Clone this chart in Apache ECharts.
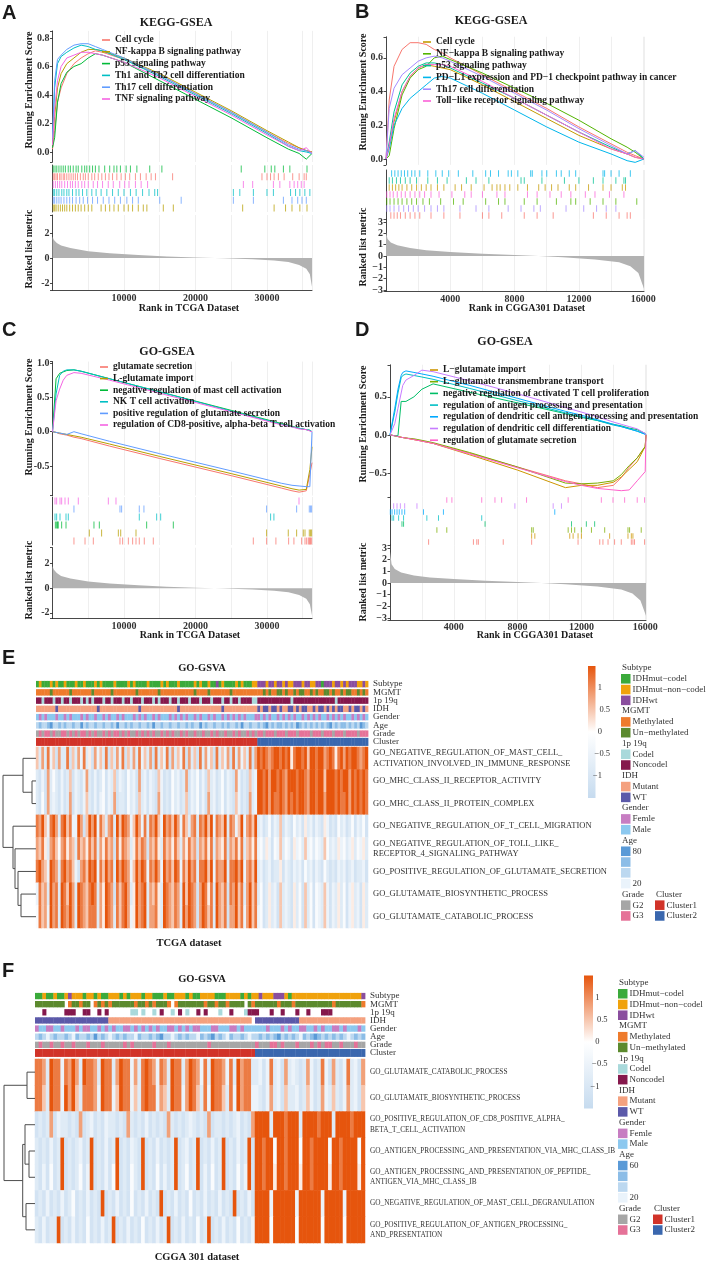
<!DOCTYPE html>
<html>
<head>
<meta charset="utf-8">
<title>GSEA / GSVA</title>
<script src="https://cdn.jsdelivr.net/npm/echarts@6/dist/echarts.min.js"></script>
<style>
  html, body { margin: 0; padding: 0; background: #fff; }
  #chart { width: 706px; height: 1265px; }
</style>
</head>
<body>
<div id="chart"></div>
<script>
// ---------------- A: KEGG-GSEA, TCGA ----------------
const setsA = ['Cell cycle', 'NF-kappa B signaling pathway', 'p53 signaling pathway',
  'Th1 and Th2 cell differentiation', 'Th17 cell differentiation', 'TNF signaling pathway'];
const colorsA = ['#F8766D', '#B79F00', '#00BA38', '#00BFC4', '#619CFF', '#F564E3'];
const rankA = [0, 300, 700, 1200, 2000, 3000, 4000, 5000, 6000, 7000, 10000, 15000, 20000, 25000, 30000, 33000, 34500, 35500, 36300];
const esA = [
  [0.02, 0.15, 0.35, 0.45, 0.55, 0.62, 0.66, 0.69, 0.71, 0.70, 0.65, 0.54, 0.41, 0.28, 0.14, 0.06, 0.03, 0.01, 0.00],
  [0.05, 0.25, 0.45, 0.55, 0.62, 0.66, 0.70, 0.72, 0.72, 0.71, 0.66, 0.55, 0.42, 0.29, 0.15, 0.07, 0.03, 0.01, 0.00],
  [0.03, 0.10, 0.35, 0.48, 0.56, 0.60, 0.62, 0.66, 0.69, 0.68, 0.63, 0.50, 0.37, 0.24, 0.10, 0.02, -0.01, -0.05, -0.01],
  [0.08, 0.45, 0.62, 0.67, 0.70, 0.73, 0.75, 0.74, 0.72, 0.71, 0.65, 0.53, 0.40, 0.27, 0.13, 0.04, 0.01, 0.00, -0.01],
  [0.10, 0.50, 0.65, 0.68, 0.72, 0.75, 0.76, 0.76, 0.74, 0.72, 0.66, 0.54, 0.41, 0.28, 0.14, 0.05, 0.02, 0.01, -0.01],
  [0.05, 0.30, 0.50, 0.60, 0.66, 0.68, 0.70, 0.70, 0.69, 0.68, 0.63, 0.52, 0.39, 0.26, 0.12, 0.04, 0.01, 0.03, -0.01]
];
const hitOrderA = [2, 0, 5, 3, 4, 1];
const hitsA = [
  [100, 300, 500, 700, 1000, 1200, 1500, 1700, 2000, 2300, 2600, 2900, 3200, 3500, 3900, 4300, 4600, 5000, 5500, 5900, 6400, 6900, 7400, 7900, 8400, 9000, 9600, 10200, 10800, 11600, 12300, 13100, 13800, 14400, 16800, 29300, 30000, 30500, 31000, 31600, 32400, 33600, 34500, 35200, 35500],
  [100, 300, 500, 800, 1100, 1400, 1700, 2000, 2400, 2800, 3200, 3600, 4000, 4500, 5000, 5500, 6800, 7400, 8000, 8600, 9200, 10000, 10600, 11200, 12000, 12700, 13200, 15500, 16900, 26600, 31000, 32600, 33500, 34600, 35600],
  [100, 350, 600, 900, 1200, 1500, 1800, 2200, 2500, 2900, 3300, 3600, 4100, 4500, 4800, 5200, 5600, 6000, 6500, 7300, 8000, 8600, 9000, 9500, 10300, 10900, 11800, 13600, 15300, 26400, 29700, 30600, 31100, 32300, 33200, 35600],
  [100, 300, 600, 900, 1300, 1600, 2000, 2300, 2800, 3300, 3700, 4200, 4800, 5500, 6100, 6800, 7600, 8400, 9200, 10000, 10900, 11700, 12600, 13500, 14300, 14700, 25300, 26200, 28100, 30000, 30900, 33300, 34000, 34600, 35300, 36000],
  [100, 300, 600, 900, 1200, 1600, 2000, 2400, 2800, 3300, 3800, 4300, 4900, 5600, 6300, 7100, 7900, 8700, 9500, 10400, 11200, 12000, 15000, 18000, 25300, 28100, 32300, 33500, 34300, 34900, 35500],
  [100, 400, 700, 1000, 1300, 1700, 2100, 2500, 2800, 3200, 3600, 4100, 4500, 5000, 5700, 6300, 7000, 7800, 8500, 9400, 10100, 10700, 11600, 12400, 13300, 26700, 28000, 30900, 31800, 33200, 33800, 34300, 34800, 35200]
];
const metricRankA = [0, 200, 600, 1200, 2500, 5000, 8000, 12000, 16000, 20000, 24000, 28000, 31000, 33000, 34500, 35500, 36000, 36300];
const metricA = [1.7, 1.45, 1.2, 1.0, 0.8, 0.55, 0.38, 0.24, 0.13, 0.05, -0.02, -0.1, -0.2, -0.32, -0.55, -0.85, -1.3, -2.3];

// ---------------- B: KEGG-GSEA, CGGA301 ----------------
const setsB = ['', 'Cell cycle', 'NF\u2212kappa B signaling pathway', 'p53 signaling pathway',
  'PD\u2212L1 expression and PD\u22121 checkpoint pathway in cancer', 'Th17 cell differentiation', 'Toll\u2212like receptor signaling pathway'];
const colorsB = ['#F8766D', '#C49A00', '#53B400', '#00C094', '#00B6EB', '#A58AFF', '#FB61D7'];
const rankB = [0, 200, 500, 1000, 1500, 2000, 2500, 3000, 3500, 4000, 6000, 8000, 10000, 12000, 14000, 15000, 15500, 16050];
const esB = [
  [0, 0.35, 0.55, 0.65, 0.69, 0.69, 0.68, 0.65, 0.63, 0.60, 0.50, 0.40, 0.30, 0.19, 0.09, 0.04, 0.02, 0.00],
  [0, 0.08, 0.22, 0.40, 0.49, 0.54, 0.56, 0.55, 0.54, 0.53, 0.44, 0.34, 0.24, 0.14, 0.06, 0.03, 0.01, 0.00],
  [0, 0.02, 0.18, 0.38, 0.48, 0.53, 0.55, 0.60, 0.61, 0.59, 0.51, 0.42, 0.33, 0.23, 0.12, 0.07, 0.04, 0.00],
  [0, 0.10, 0.28, 0.44, 0.51, 0.55, 0.57, 0.57, 0.56, 0.54, 0.45, 0.36, 0.26, 0.16, 0.07, 0.03, 0.05, 0.00],
  [0, 0.06, 0.20, 0.30, 0.36, 0.40, 0.44, 0.48, 0.49, 0.48, 0.39, 0.29, 0.19, 0.10, 0.03, -0.01, -0.02, 0.00],
  [0, 0.30, 0.42, 0.50, 0.54, 0.58, 0.60, 0.61, 0.60, 0.58, 0.49, 0.39, 0.29, 0.18, 0.08, 0.03, 0.05, 0.01],
  [0, 0.08, 0.24, 0.40, 0.49, 0.54, 0.56, 0.56, 0.56, 0.55, 0.46, 0.36, 0.26, 0.16, 0.06, 0.03, 0.01, 0.00]
];
const hitOrderB = [4, 3, 1, 6, 2, 5, 0];
const hitsB = [
  [300, 500, 700, 900, 1200, 1500, 1800, 2100, 2800, 3600, 4600, 6000, 6400, 7200, 8600, 9400, 10400, 12900, 13700, 14500, 15000, 15200],
  [200, 400, 600, 800, 1000, 1300, 1600, 1900, 2200, 2500, 2800, 3200, 3600, 4300, 4700, 5300, 6100, 6600, 6900, 7100, 7400, 7700, 8200, 8800, 9500, 9900, 10300, 10700, 11400, 11800, 12600, 13500, 14000, 14700, 14900],
  [50, 250, 500, 750, 1000, 1300, 1600, 1900, 2300, 2700, 3400, 4200, 4800, 6200, 7000, 7400, 8600, 9400, 10600, 11500, 11800, 12700, 13500, 14300, 15600],
  [200, 400, 650, 900, 1200, 1500, 1900, 2600, 3200, 3800, 5000, 5600, 6400, 8400, 8600, 9700, 11100, 12000, 12900, 13500, 14300, 14800, 14900],
  [350, 550, 750, 950, 1150, 1350, 1600, 1800, 2100, 2600, 3100, 3500, 3900, 4500, 5400, 6200, 6500, 7000, 7600, 7800, 8200, 9000, 9100, 9700, 10000, 10600, 10900, 11400, 11800, 13500, 13600, 14000, 14500, 15200],
  [50, 250, 500, 800, 1100, 1400, 1700, 2000, 2400, 2800, 3200, 3600, 4600, 5600, 6400, 7600, 8400, 9200, 9600, 11200, 12300, 13100, 13700, 14300],
  [50, 250, 450, 700, 950, 1200, 1500, 1800, 2100, 2400, 2800, 3300, 4100, 4900, 5300, 6000, 6900, 7400, 8800, 9400, 10200, 10900, 11500, 12400, 13000, 13900, 14800]
];
const metricRankB = [0, 100, 300, 700, 1500, 2500, 4000, 6000, 8000, 9500, 11000, 13000, 14500, 15200, 15700, 16050];
const metricB = [2.1, 1.5, 1.2, 0.95, 0.7, 0.5, 0.35, 0.2, 0.08, 0.0, -0.1, -0.3, -0.55, -0.9, -1.5, -2.9];

// ---------------- C: GO-GSEA, TCGA ----------------
const setsC = ['glutamate secretion', 'L-glutamate import', 'negative regulation of mast cell activation',
  'NK T cell activation', 'positive regulation of glutamate secretion', 'regulation of CD8-positive, alpha-beta T cell activation'];
const rankC = [0, 500, 1000, 1500, 2000, 3000, 4000, 8000, 15000, 25000, 32000, 33500, 34500, 35500, 36000, 36300];
const esC = [
  [0, -0.01, -0.03, -0.04, -0.05, -0.08, -0.10, -0.21, -0.39, -0.64, -0.82, -0.86, -0.88, -0.86, -0.62, -0.45],
  [0, -0.01, -0.02, -0.03, -0.04, -0.06, -0.08, -0.18, -0.36, -0.61, -0.79, -0.83, -0.85, -0.84, -0.55, -0.22],
  [0, 0.77, 0.85, 0.87, 0.89, 0.90, 0.88, 0.77, 0.58, 0.31, 0.12, 0.08, 0.05, 0.03, 0.02, 0.00],
  [0, 0.55, 0.82, 0.88, 0.90, 0.90, 0.88, 0.77, 0.58, 0.30, 0.11, 0.07, 0.05, 0.03, 0.02, 0.00],
  [0, -0.01, -0.02, -0.03, -0.04, 0.00, -0.03, -0.14, -0.32, -0.57, -0.75, -0.78, -0.79, -0.80, -0.80, 0.00],
  [0, 0.45, 0.62, 0.75, 0.82, 0.86, 0.85, 0.75, 0.56, 0.29, 0.10, 0.07, 0.04, 0.03, 0.01, 0.00]
];
const hitOrderC = [5, 4, 3, 2, 1, 0];
const hitsC = [
  [3000, 4550, 5710, 9440, 9810, 10610, 11210, 11680, 12140, 12840, 14100, 28090, 29950, 31250, 33030, 33770, 34850, 35320, 35550, 35780, 35920, 36010, 36100, 36250],
  [5150, 6870, 9210, 9540, 11680, 29950, 32980, 34150, 35080, 35320, 35920, 36100, 36250],
  [400, 580, 700, 810, 1280, 1890, 5800, 6550, 13170, 16900],
  [350, 580, 1050, 1890, 2210, 12140, 14570, 15130, 30510, 30970],
  [3000, 9440, 9670, 12140, 12790, 29950, 34150, 35920, 36100, 36250],
  [350, 580, 1050, 1280, 1750, 2210, 3610, 7810, 8880, 34480]
];
const metricC = [1.8, 1.5, 1.25, 1.0, 0.8, 0.55, 0.38, 0.24, 0.13, 0.05, -0.02, -0.1, -0.2, -0.32, -0.55, -0.85, -1.3, -2.2];

// ---------------- D: GO-GSEA, CGGA301 ----------------
const setsD = ['', 'L\u2212glutamate import', 'L\u2212glutamate transmembrane transport',
  'negative regulation of activated T cell proliferation', 'regulation of antigen processing and presentation',
  'regulation of dendritic cell antigen processing and presentation', 'regulation of dendritic cell differentiation',
  'regulation of glutamate secretion'];
const colorsD = ['#F8766D', '#CD9600', '#7CAE00', '#00BE67', '#00BFC4', '#00A9FF', '#C77CFF', '#FF61CC'];
const rankD = [0, 300, 500, 700, 800, 1000, 1500, 2000, 2700, 5000, 8000, 11000, 12000, 13000, 14000, 14500, 15000, 15500, 16000, 16050];
const esD = [
  [0, -0.01, -0.02, -0.03, -0.03, -0.04, -0.06, -0.08, -0.11, -0.24, -0.42, -0.60, -0.64, -0.69, -0.66, -0.56, -0.42, -0.30, -0.15, 0],
  [0, -0.01, -0.02, -0.03, -0.03, -0.04, -0.06, -0.08, -0.11, -0.26, -0.46, -0.69, -0.66, -0.66, -0.62, -0.55, -0.45, -0.35, -0.15, 0],
  [0, -0.01, -0.02, -0.03, -0.03, -0.04, -0.05, -0.07, -0.10, -0.23, -0.42, -0.63, -0.64, -0.63, -0.60, -0.52, -0.40, -0.30, -0.15, 0],
  [0, -0.01, -0.01, 0.44, 0.44, 0.44, 0.50, 0.60, 0.67, 0.56, 0.42, 0.28, 0.23, 0.19, 0.14, 0.12, 0.09, 0.07, 0.02, 0],
  [0, 0.30, 0.55, 0.75, 0.78, 0.80, 0.78, 0.76, 0.73, 0.61, 0.45, 0.29, 0.24, 0.19, 0.13, 0.11, 0.08, 0.05, 0.01, 0],
  [0, 0.35, 0.60, 0.78, 0.82, 0.84, 0.82, 0.80, 0.77, 0.65, 0.48, 0.31, 0.26, 0.20, 0.14, 0.11, 0.08, 0.05, 0.01, 0],
  [0, 0.15, 0.35, 0.55, 0.65, 0.72, 0.78, 0.85, 0.83, 0.71, 0.54, 0.36, 0.30, 0.24, 0.17, 0.14, 0.11, 0.08, 0.02, 0],
  [0, -0.01, -0.02, -0.03, -0.03, -0.04, -0.06, -0.08, -0.11, -0.25, -0.43, -0.61, -0.66, -0.70, -0.72, -0.73, -0.72, -0.60, -0.48, 0]
];
const hitOrderD = [7, 6, 5, 4, 3, 2, 1, 0];
const hitsD = [
  [2420, 5230, 5440, 5540, 7100, 8880, 11790, 13150, 13350, 13670, 14080, 14500, 15130, 15230, 15330, 15960],
  [8880, 9080, 11270, 11480, 11790, 12000, 13770, 14920, 15130, 15230],
  [2940, 3560, 8880, 8980, 11170, 11380, 11580, 12000, 12630, 13460, 14920, 15020, 15750],
  [750, 850, 5960, 11380, 12310, 12830],
  [130, 230, 540, 850, 2310, 3040, 5750],
  [20, 130, 290, 440, 580, 750, 920, 2100, 3350, 10330],
  [230, 440, 650, 920, 1690, 7830, 10230, 10750],
  [3560, 3880, 5750, 6580, 7000, 8560, 11170, 13250, 13980, 14710, 15500, 15960]
];
const metricD = [2.7, 1.6, 1.2, 0.9, 0.65, 0.48, 0.34, 0.2, 0.08, 0.0, -0.1, -0.3, -0.55, -0.9, -1.5, -2.8];

// ---------------- E / F: GO-GSVA heatmaps ----------------
// one digit per sample: 0 = -1.5 ... 9 = +1.5
const termsE = [
  'GO_NEGATIVE_REGULATION_OF_MAST_CELL_\nACTIVATION_INVOLVED_IN_IMMUNE_RESPONSE',
  'GO_MHC_CLASS_II_RECEPTOR_ACTIVITY',
  'GO_MHC_CLASS_II_PROTEIN_COMPLEX',
  'GO_NEGATIVE_REGULATION_OF_T_CELL_MIGRATION',
  'GO_NEGATIVE_REGULATION_OF_TOLL_LIKE_\nRECEPTOR_4_SIGNALING_PATHWAY',
  'GO_POSITIVE_REGULATION_OF_GLUTAMATE_SECRETION',
  'GO_GLUTAMATE_BIOSYNTHETIC_PROCESS',
  'GO_GLUTAMATE_CATABOLIC_PROCESS'
];
const gsvaE = [
  '6272836172 2816273825 1736281627 3816272836 2718263817 2638172618 2736182637 1827362817 9898789989 8958998969 9899789858 9798998789',
  '2131724213 1261321372 1312413261 3214231723 1321631214 2312713241 3162312413 2173121623 9989799898 7999899879 9899699989 8997989898',
  '2141723213 1271321362 1313413271 2214231623 1321731214 2312613241 3172312413 2163121723 9989798898 7989899879 9899799989 8897989898',
  '8796389728 9683397169 7938627829 6987369738 2879639786 9738627828 7969387692 8736937869 2312413261 3214231523 1321531214 2312413241',
  '7685278647 8576286758 6827586718 5876258687 1768528675 8627586717 6858276581 7685826758 3425314362 4315342634 2432642325 3423524352',
  '8976398728 9786317869 8938697829 7987369798 3879739786 9838697828 8969387792 8897937869 2312312251 3213231423 1321421213 2312312231',
  '3867297829 8697298768 9827598718 6897259789 2768529876 8729698717 9858297681 8796827968 2412523162 3215241624 1432631325 2413523152',
  '4867397829 8797298768 8827598728 6897359789 2778529876 8729798717 9868297681 7796837968 3412523162 3215241624 1432631325 2413523152'
];
const annoE = [
  'gogggogogg ogggoggogg gogoggggog gggogogggg oggggogogg gogggggogo ggoggpgogg ggogogggoo pppoppoppo poopppoppo oppgpppopp opopppoopo',
  'MMMMMUMMMM MMUMMMMMMM UMMMMMMUMM MMMMMMUMMM MMMMUMMMMM MMMMMMMUMM MMUMMMMMMM UMMMMMMMMM MMUMUMMUUM UMMUMUUMMU MUMMUUMUMM UMUUMMUMUM',
  'nncnnncnnc nncnnncncn cnnncnncnn ncnncnnncn nncncnnncn ncnnncnnnc nnncnnncnn cnncnnnncc nnnnnnnnnn nncnnnnnnn nnnnnnnncn nnnnnnnnnn',
  'tttttttwtt tttttttttt ttwttttttt tttttttwtt tttttttttt twtttttttt tttttttwtt tttttttttt wtwwtwwtwt twwtwtwwtt wtwwtwtwtw wttwtwwtwt',
  'lflflllfll flflllflfl lfllflfllf lflllflflf llflflllfl flflfllflf llflfllflf lflflflllf flflfllflf lflfllflfl flfllflflf lfllflflfl',
  'bdbbdebbdb dbbdbbebdb bdbbdbbdbe bbdbdbbdbb dbebbdbbdb bdbbdbdbbe bdbbdbbdbd bbdbebbdbb dbdebdbddb dbdbedbdbd bdbdbdebdb ddbdbdbedb',
  'xyxyyxyxxy yxyxyxyyxy xyxxyxyxyy xyxyxxyxyx yxyxxyxyxy xxyxyxxyxx yxxyxyxxyx xyxyxxyxyx yyxyyyxyyy xyyyxyyyyx yyyxyyyxyy yxyyyyxyyy'
];
const clusterSizesE = [80, 40];
const mergesE = [[1, 2, 4], [0, 8, 13], [6, 7, 15], [5, 10, 18], [4, 11, 21], [3, 12, 23], [9, 13, 33]];

const termsF = [
  'GO_GLUTAMATE_CATABOLIC_PROCESS',
  'GO_GLUTAMATE_BIOSYNTHETIC_PROCESS',
  'GO_POSITIVE_REGULATION_OF_CD8_POSITIVE_ALPHA_\nBETA_T_CELL_ACTIVATION',
  'GO_ANTIGEN_PROCESSING_AND_PRESENTATION_VIA_MHC_CLASS_IB',
  'GO_ANTIGEN_PROCESSING_AND_PRESENTATION_OF_PEPTIDE_\nANTIGEN_VIA_MHC_CLASS_IB',
  'GO_NEGATIVE_REGULATION_OF_MAST_CELL_DEGRANULATION',
  'GO_POSITIVE_REGULATION_OF_ANTIGEN_PROCESSING_\nAND_PRESENTATION'
];
const gsvaF = [
  '8872988387 9729887298 8279883728 9873872988 2798738298 8738297882 2313823172 3212731283 1721382317',
  '8862988397 9628887398 8369883628 9883762988 3798628398 8628397883 3213723162 2312631273 2621372316',
  '1212713221 2171231213 2212172121 3121217212 1232121712 2121231217 9999299989 9929999899 9299998999',
  '2121312912 1231291213 1291213219 1213121291 2312912131 2912131291 9989949989 9949989999 4998999949',
  '2131412912 1241391213 1491214219 1214131291 2412913141 2912141391 9989959989 9959989999 5998999959',
  '1213121312 4121312191 2131214121 3121912131 2141213121 3121912131 9999399999 9399999939 9999399999',
  '2131229121 3121412131 2912131214 1213129121 3121412912 1312141213 9999499999 9499999949 9999499999'
];
const annoF = [
  'ggoggoggop ooogoogogg ooogogooog oogggoggoo ogoggoooog ggoooogogo opooopppog oooooooooo ooooooooop',
  'UUUUUUUU.M UUMUU.MUMU MUUUUUUMUU MUMUUUM.MU UUUUUUMUUM UUMUUUU.UM UUUUUUMUUU MUUUUUUUUU UMUUUUUUUM',
  '..n.....nn n..nn..n.n ......cc.c ..c.n..c.n .c..n.n... c..n...cnn n...n..n.. .n..n...nn n.........',
  'wwwwwwwwww wwwwwwwwww tttttttttt tttttttttt tttttttttt ttttttttt. wwwwwwwwww wwtttttttt tttttttttt',
  'fllffllfll lflffllflf lfllfflflf lflfllfflf lflfflllff lllfflflll lllflllflf llffllflfl lfflflllfl',
  'bdbabdbbdb adbbdbebdb abdbdbbadb bdbdebbabd bdbbadbdeb dbadbbdbab bdbdbdebdb dbadbdedbd bdbdbabdbd',
  'xyxxyxxyxx yxxxyxxxyx xxxxyxyxxx xxyxxxyxxx xxxxxxxyxx xxxxxxxxxx yxxxyyxyxx xyxxxyxyxy yxxyxxxyxx'
];
const clusterSizesF = [60, 30];
const mergesF = [[0, 1, 8], [3, 4, 6], [2, 8, 10], [5, 6, 9], [9, 10, 12.3], [7, 11, 31]];

const annoNames = ['Subtype', 'MGMT', '1p 19q', 'IDH', 'Gender', 'Age', 'Grade', 'Cluster'];
const annoCodes = 'gopMUcntwflabdexyRB';
const annoPalette = ['#3BAA3B', '#F0A20C', '#8A4E9E', '#EE7B2C', '#5C8A2E', '#A9D9DB', '#85184C', '#F4A17F', '#5B59A9',
  '#C77DC2', '#8CC8EF', '#EAF3FB', '#BCD8F0', '#8CBDE7', '#5A9AD7', '#A6A6A6', '#E57298', '#D13329', '#3A67AE'];
const legendGroups = [
  ['Subtype', [['IDHmut\u2212codel', 'g'], ['IDHmut\u2212non\u2212codel', 'o'], ['IDHwt', 'p']]],
  ['MGMT', [['Methylated', 'M'], ['Un\u2212methylated', 'U']]],
  ['1p 19q', [['Codel', 'c'], ['Noncodel', 'n']]],
  ['IDH', [['Mutant', 't'], ['WT', 'w']]],
  ['Gender', [['Femle', 'f'], ['Male', 'l']]],
  ['Age', [['', 'e'], ['', 'd'], ['', 'b'], ['', 'a']]],
  ['Grade', [['G2', 'x'], ['G3', 'y']]]
];
const clusterLegend = [['Cluster1', 'R'], ['Cluster2', 'B']];
const heatColors = ['#c6dbef', '#ffffff', '#e6550d'];
const colorbarTicks = [1, 0.5, 0, -0.5, -1];

// ---------------- building ----------------
const SERIF = 'Liberation Serif';
const AX = '#1a1a1a';
const grids = [], xAxes = [], yAxes = [], series = [], legends = [], graphics = [], heatSeries = [];

function addGrid(left, top, width, height) {
  grids.push({ left, top, width, height, containLabel: false, outerBoundsMode: 'none' });
  return grids.length - 1;
}
function tickFmt(step, digits, minus) {
  return v => {
    const k = v / step;
    if (Math.abs(k - Math.round(k)) > 1e-6) return '';
    const s = (Math.abs(v) < 1e-9 ? 0 : v).toFixed(digits);
    return minus ? s.replace('-', '\u2212') : s;
  };
}
function txt(text, x, y, font, o = {}) {
  const a = o.align || 'center', va = o.va || 'middle';
  graphics.push({ type: 'text', x, y, rotation: o.rot || 0, silent: true,
    style: { text, font, fill: o.color || AX, textAlign: a, textVerticalAlign: va, align: a, verticalAlign: va } });
}

function gseaPanel(p) {
  const line = { show: true, onZero: false, lineStyle: { color: AX, width: 0.8 } };
  const tick = { show: true, length: 2.5, lineStyle: { color: AX, width: 0.8 } };
  const vgrid = { show: true, lineStyle: { color: '#EBEBEB', width: 0.8 } };
  const lab = fmt => ({ fontFamily: SERIF, fontWeight: 'bold', fontSize: 10, color: '#333', margin: 3, formatter: fmt, hideOverlap: false });
  const xHidden = g => ({ gridIndex: g, type: 'value', min: 0, max: p.xMax, interval: p.xGrid,
    axisLine: { show: false }, axisTick: { show: false }, axisLabel: { show: false }, splitLine: vgrid });

  // running enrichment score
  let g = addGrid(p.left, p.esBox[0], p.width, p.esBox[1]);
  xAxes.push(xHidden(g));
  yAxes.push({ gridIndex: g, type: 'value', min: p.esRange[0], max: p.esRange[1], minInterval: p.esStep, maxInterval: p.esStep,
    axisLine: line, axisTick: tick, splitLine: { show: false }, axisLabel: lab(tickFmt(p.esStep, 1, p.minus)) });
  let xi = xAxes.length - 1, yi = yAxes.length - 1;
  const names = [];
  p.sets.forEach((name, i) => {
    const nm = p.key + i + '|' + name;
    if (name) names.push(nm);
    series.push({ type: 'line', name: nm, xAxisIndex: xi, yAxisIndex: yi, data: p.ranks.map((r, k) => [r, p.es[i][k]]),
      showSymbol: false, symbol: 'none', lineStyle: { color: p.colors[i], width: 1 }, itemStyle: { color: p.colors[i] }, silent: true, z: 3 });
  });
  legends.push({ left: p.legend[0], top: p.legend[1], orient: 'vertical', padding: 0, itemGap: p.legendGap, itemWidth: 8, itemHeight: 1.6,
    icon: 'rect', selectedMode: false, data: names, formatter: n => n.split('|')[1],
    textStyle: { fontFamily: SERIF, fontWeight: 'bold', fontSize: 9.5, lineHeight: 11, color: '#1a1a1a', padding: 0 } });

  // gene hits
  g = addGrid(p.left, p.hitBox[0], p.width, p.hitBox[1]);
  xAxes.push(xHidden(g));
  yAxes.push({ gridIndex: g, type: 'category', data: p.hitOrder.map((s, i) => i), inverse: true, axisLine: line,
    axisTick: { show: false }, axisLabel: { show: false }, splitLine: { show: false } });
  xi = xAxes.length - 1; yi = yAxes.length - 1;
  const rowH = p.hitBox[1] / p.hitOrder.length;
  p.hitOrder.forEach((s, row) => series.push({ type: 'scatter', xAxisIndex: xi, yAxisIndex: yi, symbol: 'rect',
    symbolSize: [1, rowH * 0.9], itemStyle: { color: p.colors[s], opacity: 0.75 }, silent: true,
    data: p.hits[s].map(r => [r, row]) }));

  // ranked list metric
  g = addGrid(p.left, p.rankBox[0], p.width, p.rankBox[1]);
  xAxes.push({ gridIndex: g, type: 'value', min: 0, max: p.xMax, interval: p.xGrid, axisLine: line, axisTick: { show: false },
    splitLine: vgrid, axisLabel: lab(v => (v > 0 && v % p.xLab === 0) ? String(v) : '') });
  yAxes.push({ gridIndex: g, type: 'value', min: p.rankRange[0], max: p.rankRange[1], minInterval: p.rankStep, maxInterval: p.rankStep,
    axisLine: line, axisTick: tick, splitLine: { show: false }, axisLabel: lab(tickFmt(p.rankStep, 0, p.minus)) });
  xi = xAxes.length - 1; yi = yAxes.length - 1;
  series.push({ type: 'line', xAxisIndex: xi, yAxisIndex: yi, data: p.metricX.map((x, i) => [x, p.metric[i]]),
    showSymbol: false, symbol: 'none', lineStyle: { width: 0 }, areaStyle: { color: '#B2B2B2', opacity: 1 }, silent: true });

  // titles
  txt(p.letter[0], p.letter[1], p.letter[2], 'bold 20px "Liberation Sans"', { align: 'left', va: 'top' });
  txt(p.title[0], p.title[1], p.title[2], 'bold 12px "Liberation Serif"');
  txt('Running Enrichment Score', p.yTitleX, p.esTitleY, 'bold 10px "Liberation Serif"', { rot: Math.PI / 2 });
  txt('Ranked list metric', p.yTitleX, p.rankTitleY, 'bold 10px "Liberation Serif"', { rot: Math.PI / 2 });
  txt(p.xTitle[0], p.xTitle[1], p.xTitle[2], 'bold 10px "Liberation Serif"');
}

function heatPanel(h) {
  const rows = h.gsva.map(s => s.replace(/\s/g, ''));
  const cols = rows[0].split('').map((_, i) => i);
  const annos = h.anno.map(s => s.replace(/\s/g, ''));
  annos.push(h.clusters.map((c, k) => (k ? 'B' : 'R').repeat(c)).join(''));
  const rightLab = (size, lh) => ({ interval: 0, fontFamily: SERIF, fontSize: size, lineHeight: lh, color: '#333', margin: 5 });

  // annotation bars
  let g = addGrid(h.left, h.annoBox[0], h.width, h.annoBox[1]);
  xAxes.push({ gridIndex: g, type: 'category', data: cols, show: false });
  yAxes.push({ gridIndex: g, type: 'category', data: annoNames, inverse: true, position: 'right', axisLine: { show: false },
    axisTick: { show: false }, splitLine: { show: false }, axisLabel: rightLab(9, 9) });
  const annoData = [];
  annos.forEach((s, r) => s.split('').forEach((ch, c) => {
    const k = annoCodes.indexOf(ch);
    if (k >= 0) annoData.push([c, r, k]);
  }));
  series.push({ type: 'custom', xAxisIndex: xAxes.length - 1, yAxisIndex: yAxes.length - 1, data: annoData, silent: true,
    renderItem: (params, api) => {
      const c = api.coord([api.value(0), api.value(1)]);
      const s = api.size([1, 1]);
      const hh = s[1] * (api.value(1) === annoNames.length - 1 ? 0.98 : 0.78);
      return { type: 'rect', shape: { x: c[0] - s[0] / 2, y: c[1] - hh / 2, width: s[0] + 0.4, height: hh },
        style: { fill: annoPalette[api.value(2)] } };
    } });

  // heatmap
  g = addGrid(h.left, h.heatBox[0], h.width, h.heatBox[1]);
  xAxes.push({ gridIndex: g, type: 'category', data: cols, show: false });
  yAxes.push({ gridIndex: g, type: 'category', data: h.terms, inverse: true, position: 'right', axisLine: { show: false },
    axisTick: { show: false }, splitLine: { show: false }, axisLabel: rightLab(h.termSize, 10.5) });
  const cells = [];
  rows.forEach((s, r) => s.split('').forEach((ch, c) => cells.push([c, r, (Number(ch) - 4.5) / 3])));
  series.push({ type: 'heatmap', xAxisIndex: xAxes.length - 1, yAxisIndex: yAxes.length - 1, data: cells, progressive: 0, silent: true });
  heatSeries.push(series.length - 1);

  // dendrogram
  g = addGrid(h.dendro[0], h.heatBox[0], h.left - h.dendro[0], h.heatBox[1]);
  xAxes.push({ gridIndex: g, type: 'value', min: 0, max: h.dendro[1], inverse: true, show: false });
  yAxes.push({ gridIndex: g, type: 'value', min: -0.5, max: rows.length - 0.5, inverse: true, show: false });
  const node = rows.map((_, i) => [i, 0]);
  const links = h.merges.map(([a, b, ht]) => {
    const A = node[a], B = node[b];
    node.push([(A[0] + B[0]) / 2, ht]);
    return [A[0], B[0], A[1], B[1], ht];
  });
  series.push({ type: 'custom', xAxisIndex: xAxes.length - 1, yAxisIndex: yAxes.length - 1, data: links, silent: true,
    encode: { x: [2, 3, 4], y: [0, 1] },
    renderItem: (params, api) => {
      const pts = [[api.value(2), api.value(0)], [api.value(4), api.value(0)], [api.value(4), api.value(1)], [api.value(3), api.value(1)]]
        .map(q => api.coord(q));
      return { type: 'polyline', shape: { points: pts }, style: { stroke: '#4d4d4d', lineWidth: 1, fill: null } };
    } });

  // colour bar
  const cb = h.colorbar;
  graphics.push({ type: 'rect', silent: true, shape: { x: cb[0], y: cb[1], width: cb[2], height: cb[3] },
    style: { fill: new echarts.graphic.LinearGradient(0, 0, 0, 1, [
      { offset: 0, color: heatColors[2] }, { offset: 0.5, color: heatColors[1] }, { offset: 1, color: heatColors[0] }]) } });
  colorbarTicks.forEach(v => {
    const y = cb[1] + (1.5 - v) / 3 * cb[3];
    const half = Math.abs(v % 1) > 0;
    txt(String(v).replace('-', '\u2212'), cb[0] + cb[2] + (half ? 14.5 : 6.5), y, '8.5px "Liberation Serif"', { align: 'right', color: '#333' });
  });

  // annotation legend
  const [x0, y0, pitch] = h.legend;
  const font = '9px "Liberation Serif"';
  let y = y0, gradeY = 0;
  legendGroups.forEach(([title, items]) => {
    if (title === 'Grade') gradeY = y;
    txt(title, x0 + 1, y, font, { align: 'left', color: '#333' });
    items.forEach(([lab, code], k) => {
      y += pitch;
      graphics.push({ type: 'rect', silent: true, shape: { x: x0, y: y - pitch / 2 + 0.6, width: 9.5, height: pitch - 1.2 },
        style: { fill: annoPalette[annoCodes.indexOf(code)] } });
      let l = lab;
      if (title === 'Age') l = k === 0 ? h.ageTop : (k === items.length - 1 ? '20' : '');
      if (l) txt(l, x0 + 11.5, y, font, { align: 'left', color: '#333' });
    });
    y += pitch;
  });
  txt('Cluster', h.clusterX + 1, gradeY, font, { align: 'left', color: '#333' });
  clusterLegend.forEach(([lab, code], k) => {
    const yy = gradeY + pitch * (k + 1);
    graphics.push({ type: 'rect', silent: true, shape: { x: h.clusterX, y: yy - pitch / 2 + 0.6, width: 9.5, height: pitch - 1.2 },
      style: { fill: annoPalette[annoCodes.indexOf(code)] } });
    txt(lab, h.clusterX + 11.5, yy, font, { align: 'left', color: '#333' });
  });

  txt(h.letter[0], h.letter[1], h.letter[2], 'bold 20px "Liberation Sans"', { align: 'left', va: 'top' });
  txt('GO-GSVA', h.titleXY[0], h.titleXY[1], 'bold 10.5px "Liberation Serif"');
  txt(h.caption[0], h.caption[1], h.caption[2], 'bold 10.5px "Liberation Serif"');
}

gseaPanel({ key: 'A', sets: setsA, colors: colorsA, ranks: rankA, es: esA, hitOrder: hitOrderA, hits: hitsA,
  metricX: metricRankA, metric: metricA, minus: false,
  left: 52.5, width: 259.5, xMax: 36300, xGrid: 5000, xLab: 10000,
  esBox: [30.9, 131.1], esRange: [-0.07, 0.85], esStep: 0.2, hitBox: [165, 47],
  rankBox: [215, 75], rankRange: [-2.56, 3.44], rankStep: 2, legend: [102, 34.5], legendGap: 0.8,
  letter: ['A', 2, 3], title: ['KEGG-GSEA', 176, 23], yTitleX: 29, esTitleY: 90, rankTitleY: 249, xTitle: ['Rank in TCGA Dataset', 189, 308] });

gseaPanel({ key: 'B', sets: setsB, colors: colorsB, ranks: rankB, es: esB, hitOrder: hitOrderB, hits: hitsB,
  metricX: metricRankB, metric: metricB, minus: true,
  left: 386, width: 258, xMax: 16050, xGrid: 2000, xLab: 4000,
  esBox: [36.8, 128.1], esRange: [-0.035, 0.725], esStep: 0.2, hitBox: [170, 49],
  rankBox: [219.2, 71.9], rankRange: [-3.1, 3.25], rankStep: 1, legend: [423, 36.5], legendGap: 0.8,
  letter: ['B', 355, 2], title: ['KEGG-GSEA', 491, 21], yTitleX: 363, esTitleY: 92, rankTitleY: 247, xTitle: ['Rank in CGGA301 Dataset', 527, 308] });

gseaPanel({ key: 'C', sets: setsC, colors: colorsA, ranks: rankC, es: esC, hitOrder: hitOrderC, hits: hitsC,
  metricX: metricRankA, metric: metricC, minus: false,
  left: 52.5, width: 259.5, xMax: 36300, xGrid: 5000, xLab: 10000,
  esBox: [361.6, 134], esRange: [-0.93, 1.02], esStep: 0.5, hitBox: [497, 48],
  rankBox: [547.7, 70.7], rankRange: [-2.45, 3.3], rankStep: 2, legend: [100, 361.5], legendGap: 0.6,
  letter: ['C', 2, 320], title: ['GO-GSEA', 167, 352], yTitleX: 29, esTitleY: 417, rankTitleY: 580, xTitle: ['Rank in TCGA Dataset', 190, 635] });

gseaPanel({ key: 'D', sets: setsD, colors: colorsD, ranks: rankD, es: esD, hitOrder: hitOrderD, hits: hitsD,
  metricX: metricRankB, metric: metricD, minus: true,
  left: 390, width: 256, xMax: 16050, xGrid: 2000, xLab: 4000,
  esBox: [364.8, 132], esRange: [-0.81, 0.92], esStep: 0.5, hitBox: [497, 48],
  rankBox: [545.1, 74.7], rankRange: [-3.15, 3.25], rankStep: 1, legend: [430, 364.5], legendGap: 0.7,
  letter: ['D', 355, 320], title: ['GO-GSEA', 505, 342], yTitleX: 363, esTitleY: 424, rankTitleY: 582, xTitle: ['Rank in CGGA301 Dataset', 535, 635] });

heatPanel({ gsva: gsvaE, anno: annoE, clusters: clusterSizesE, merges: mergesE, terms: termsE, termSize: 8.5,
  left: 36, width: 332, annoBox: [680, 66], heatBox: [747, 181], dendro: [3, 33],
  colorbar: [588, 666, 7.5, 132], legend: [621, 668, 10.78], ageTop: '80', clusterX: 655,
  letter: ['E', 2, 648], titleXY: [202, 668], caption: ['TCGA dataset', 189, 943] });

heatPanel({ gsva: gsvaF, anno: annoF, clusters: clusterSizesF, merges: mergesF, terms: termsF, termSize: 7.3,
  left: 35, width: 330, annoBox: [992, 65], heatBox: [1059, 184], dendro: [4, 31],
  colorbar: [584, 975.5, 9, 133], legend: [618, 983, 10.74], ageTop: '60', clusterX: 653,
  letter: ['F', 2, 961], titleXY: [202, 979], caption: ['CGGA 301 dataset', 197, 1257] });

const chart = echarts.init(document.getElementById('chart'), null, { renderer: 'canvas' });
chart.setOption({
  animation: false,
  backgroundColor: '#ffffff',
  textStyle: { fontFamily: SERIF },
  grid: grids,
  xAxis: xAxes,
  yAxis: yAxes,
  legend: legends,
  visualMap: [{ type: 'continuous', show: false, seriesIndex: heatSeries, dimension: 2, min: -1.5, max: 1.5,
    inRange: { color: heatColors } }],
  series: series,
  graphic: { elements: graphics }
});
</script>
</body>
</html>
